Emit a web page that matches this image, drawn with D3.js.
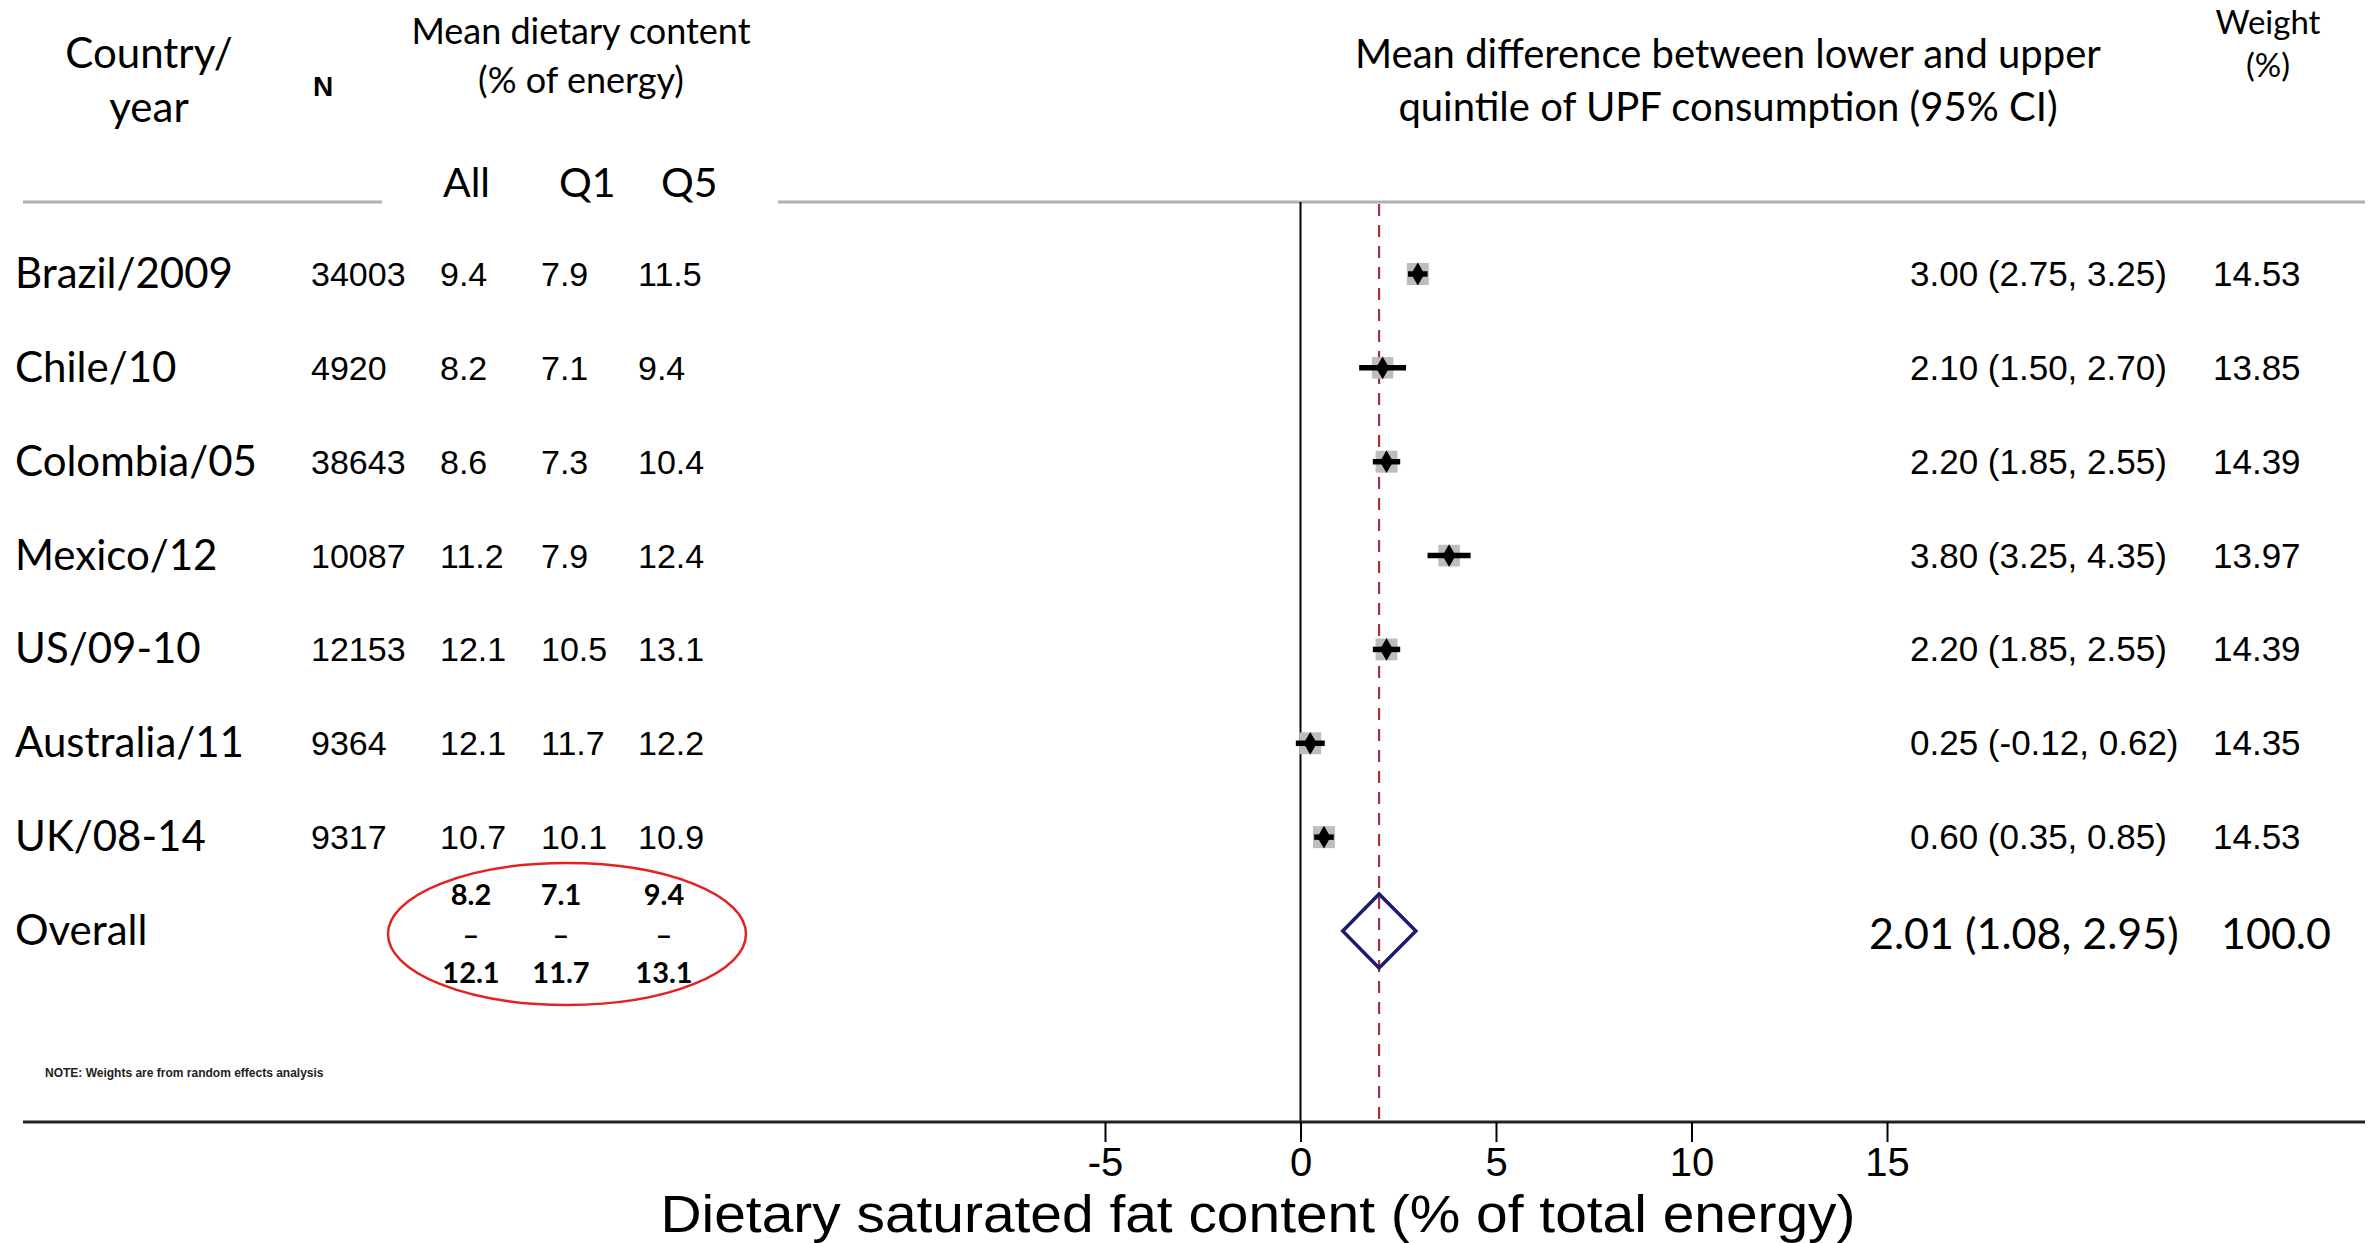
<!DOCTYPE html>
<html>
<head>
<meta charset="utf-8">
<script src="https://cdn.jsdelivr.net/npm/d3@7"></script>
<style>
  html, body { margin: 0; padding: 0; background: #fff; }
  svg { display: block; }
</style>
</head>
<body>
<script>
// ---------------- data ----------------
const countries = ["Brazil/2009", "Chile/10", "Colombia/05", "Mexico/12", "US/09-10", "Australia/11", "UK/08-14"];
const sampleN = [34003, 4920, 38643, 10087, 12153, 9364, 9317];
const meanAll = [9.4, 8.2, 8.6, 11.2, 12.1, 12.1, 10.7];
const meanQ1 = [7.9, 7.1, 7.3, 7.9, 10.5, 11.7, 10.1];
const meanQ5 = [11.5, 9.4, 10.4, 12.4, 13.1, 12.2, 10.9];
const meanDiff = [3.00, 2.10, 2.20, 3.80, 2.20, 0.25, 0.60];
const ciLower = [2.75, 1.50, 1.85, 3.25, 1.85, -0.12, 0.35];
const ciUpper = [3.25, 2.70, 2.55, 4.35, 2.55, 0.62, 0.85];
const weights = [14.53, 13.85, 14.39, 13.97, 14.39, 14.35, 14.53];
const overallLabel = "Overall";
const overallEst = 2.01, overallLo = 1.08, overallHi = 2.95;
const overallWeight = "100.0";
const overallRangeLow = [8.2, 7.1, 9.4];
const overallRangeHigh = [12.1, 11.7, 13.1];
const xTicks = [-5, 0, 5, 10, 15];
const xTitle = "Dietary saturated fat content (% of total energy)";
const noteText = "NOTE: Weights are from random effects analysis";

// ---------------- setup ----------------
const W = 2377, H = 1243;
const svg = d3.select("body").append("svg").attr("width", W).attr("height", H);
svg.append("rect").attr("width", W).attr("height", H).attr("fill", "#fff");

const calibri = "Lato, 'Open Sans', sans-serif";
const arial = "'Liberation Sans', Arial, sans-serif";

const rows = countries.concat([overallLabel]);
const y = d3.scalePoint().domain(rows).range([274, 931]);
const x = d3.scaleLinear().domain([-5, 15]).range([1105, 1887]);

const headerY = 202, axisY = 1122;

// plain hyphen-minus number formats
const hy = s => s.replace("\u2212", "-");
const f1 = v => hy(d3.format(".1f")(v));
const f2 = v => hy(d3.format(".2f")(v));

// ---------------- header ----------------
const hdr = svg.append("g").attr("fill", "#000");
hdr.append("text").attr("x", 149).attr("y", 68).attr("text-anchor", "middle")
  .attr("font-family", calibri).attr("font-size", 42).text("Country/");
hdr.append("text").attr("x", 149).attr("y", 122).attr("text-anchor", "middle")
  .attr("font-family", calibri).attr("font-size", 42).text("year");
hdr.append("text").attr("x", 323).attr("y", 96).attr("text-anchor", "middle")
  .attr("font-family", arial).attr("font-weight", "bold").attr("font-size", 28).text("N");
hdr.append("text").attr("x", 581).attr("y", 44).attr("text-anchor", "middle")
  .attr("font-family", calibri).attr("font-size", 36).text("Mean dietary content");
hdr.append("text").attr("x", 581).attr("y", 93).attr("text-anchor", "middle")
  .attr("font-family", calibri).attr("font-size", 36).text("(% of energy)");
const colHeads = ["All", "Q1", "Q5"];
const colHeadX = [443, 559, 661];
colHeads.forEach((t, i) => {
  hdr.append("text").attr("x", colHeadX[i]).attr("y", 197)
    .attr("font-family", calibri).attr("font-size", 41).text(t);
});
hdr.append("text").attr("x", 1728).attr("y", 68).attr("text-anchor", "middle")
  .attr("font-family", calibri).attr("font-size", 40).text("Mean difference between lower and upper");
hdr.append("text").attr("x", 1728).attr("y", 121).attr("text-anchor", "middle")
  .attr("font-family", calibri).attr("font-size", 40).text("quintile of UPF consumption (95% CI)");
hdr.append("text").attr("x", 2268).attr("y", 34).attr("text-anchor", "middle")
  .attr("font-family", calibri).attr("font-size", 33).text("Weight");
hdr.append("text").attr("x", 2268).attr("y", 77).attr("text-anchor", "middle")
  .attr("font-family", calibri).attr("font-size", 33).text("(%)");

// header rules
svg.append("line").attr("x1", 23).attr("x2", 382).attr("y1", headerY).attr("y2", headerY)
  .attr("stroke", "#b0b0b0").attr("stroke-width", 3);
svg.append("line").attr("x1", 778).attr("x2", 2365).attr("y1", headerY).attr("y2", headerY)
  .attr("stroke", "#b0b0b0").attr("stroke-width", 3);

// ---------------- left table ----------------
const tbl = svg.append("g");
countries.forEach((c, i) => {
  const yy = y(c);
  tbl.append("text").attr("x", 15).attr("y", yy + 14)
    .attr("font-family", calibri).attr("font-size", 42).text(c);
  const g = tbl.append("g").attr("font-family", arial).attr("font-size", 34);
  g.append("text").attr("x", 311).attr("y", yy + 12).text(sampleN[i]);
  g.append("text").attr("x", 440).attr("y", yy + 12).text(f1(meanAll[i]));
  g.append("text").attr("x", 541).attr("y", yy + 12).text(f1(meanQ1[i]));
  g.append("text").attr("x", 638).attr("y", yy + 12).text(f1(meanQ5[i]));
  // right columns
  g.append("text").attr("x", 1910).attr("y", yy + 12).attr("font-size", 35)
    .text(`${f2(meanDiff[i])} (${f2(ciLower[i])}, ${f2(ciUpper[i])})`);
  g.append("text").attr("x", 2213).attr("y", yy + 12).attr("font-size", 35).text(f2(weights[i]));
});

// Overall row
const yo = y(overallLabel);
tbl.append("text").attr("x", 15).attr("y", yo + 14)
  .attr("font-family", calibri).attr("font-size", 42).text(overallLabel);
const ovX = [471, 561, 664];
overallRangeLow.forEach((v, i) => {
  tbl.append("text").attr("x", ovX[i]).attr("y", yo - 26).attr("text-anchor", "middle")
    .attr("font-family", calibri).attr("font-weight", "bold").attr("font-size", 29).text(f1(v));
  tbl.append("text").attr("x", ovX[i]).attr("y", yo + 14).attr("text-anchor", "middle")
    .attr("font-family", calibri).attr("font-weight", "bold").attr("font-size", 29).text("–");
  tbl.append("text").attr("x", ovX[i]).attr("y", yo + 52).attr("text-anchor", "middle")
    .attr("font-family", calibri).attr("font-weight", "bold").attr("font-size", 29).text(f1(overallRangeHigh[i]));
});
svg.append("ellipse").attr("cx", 567).attr("cy", yo + 3).attr("rx", 179).attr("ry", 71)
  .attr("fill", "none").attr("stroke", "#e3211f").attr("stroke-width", 2.5);

tbl.append("text").attr("x", 1869).attr("y", yo + 18)
  .attr("font-family", calibri).attr("font-size", 43)
  .text(`${f2(overallEst)} (${f2(overallLo)}, ${f2(overallHi)})`);
tbl.append("text").attr("x", 2221).attr("y", yo + 18)
  .attr("font-family", calibri).attr("font-size", 43).text(overallWeight);

// note
svg.append("text").attr("x", 45).attr("y", 1077)
  .attr("font-family", arial).attr("font-weight", "bold").attr("font-size", 12)
  .attr("fill", "#222").text(noteText);

// ---------------- forest plot ----------------
const plot = svg.append("g");
plot.append("line").attr("x1", x(0)).attr("x2", x(0)).attr("y1", headerY).attr("y2", axisY)
  .attr("stroke", "#000").attr("stroke-width", 2);
plot.append("line").attr("x1", x(overallEst)).attr("x2", x(overallEst))
  .attr("y1", headerY + 2).attr("y2", axisY)
  .attr("stroke", "#a3303f").attr("stroke-width", 2.2).attr("stroke-dasharray", "12,9");

const boxSize = d3.scaleSqrt().domain([0, 14.53]).range([0, 22]);
countries.forEach((c, i) => {
  const yy = y(c);
  const s = boxSize(weights[i]);
  plot.append("rect").attr("x", x(meanDiff[i]) - s / 2).attr("y", yy - s / 2)
    .attr("width", s).attr("height", s).attr("fill", "#bdbdbd");
  plot.append("line").attr("x1", x(ciLower[i])).attr("x2", x(ciUpper[i]))
    .attr("y1", yy).attr("y2", yy).attr("stroke", "#000").attr("stroke-width", 5.5);
  plot.append("path").attr("transform", `translate(${x(meanDiff[i])},${yy})`)
    .attr("d", d3.symbol(d3.symbolDiamond, 150)()).attr("fill", "#000");
});

const dh = 37;
plot.append("path")
  .attr("d", `M${x(overallLo)},${yo} L${x(overallEst)},${yo - dh} L${x(overallHi)},${yo} L${x(overallEst)},${yo + dh} Z`)
  .attr("fill", "none").attr("stroke", "#1c1c6e").attr("stroke-width", 3.5);

// ---------------- axis ----------------
svg.append("line").attr("x1", 23).attr("x2", 2365).attr("y1", axisY).attr("y2", axisY)
  .attr("stroke", "#222").attr("stroke-width", 3);
const axis = d3.axisBottom(x).tickValues(xTicks).tickSize(20).tickPadding(6)
  .tickFormat(d => hy(d3.format("d")(d)));
const ax = svg.append("g").attr("transform", `translate(0,${axisY})`).call(axis);
ax.select(".domain").remove();
ax.selectAll(".tick line").attr("stroke", "#000").attr("stroke-width", 2);
ax.selectAll(".tick text").attr("font-family", arial).attr("font-size", 40).attr("fill", "#000");
svg.append("text").attr("x", 1258).attr("y", 1232).attr("text-anchor", "middle")
  .attr("font-family", arial).attr("font-size", 51).attr("fill", "#000")
  .attr("textLength", 1195).attr("lengthAdjust", "spacingAndGlyphs").text(xTitle);
</script>
</body>
</html>
